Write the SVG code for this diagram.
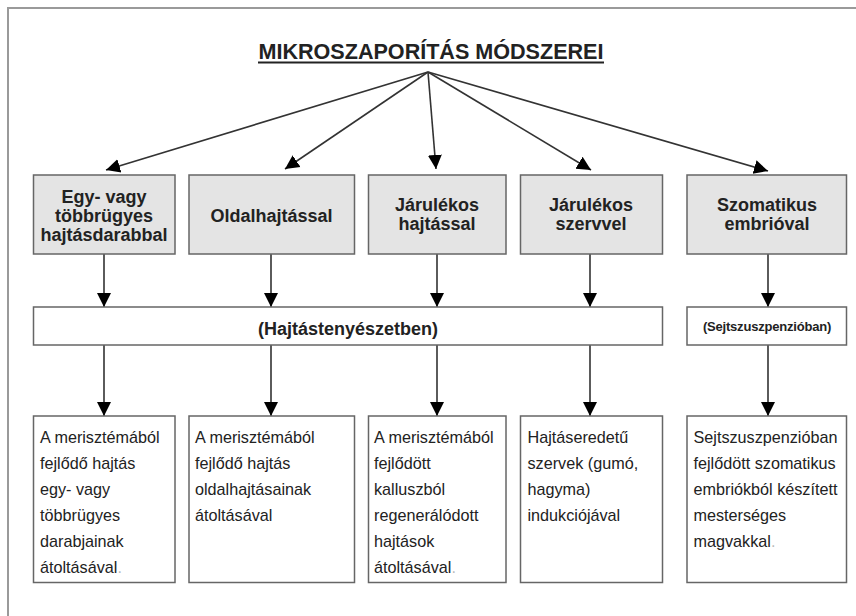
<svg xmlns="http://www.w3.org/2000/svg" width="856" height="616" viewBox="0 0 856 616">
  <style>
    .frame { fill: none; stroke: #9a9a9a; stroke-width: 2; }
    .head { fill: #e4e4e4; stroke: #666; stroke-width: 1.5; }
    .plain { fill: #fff; stroke: #666; stroke-width: 1.5; }
    .hb { font-family: "Liberation Sans", Arial, sans-serif; font-weight: bold; font-size: 18px; fill: #222; text-anchor: middle; }
    .sm { font-size: 13px; letter-spacing: -0.2px; }
    .tx { font-family: "Liberation Sans", Arial, sans-serif; font-size: 16.2px; fill: #222; }
    .dot { fill: #bbb; }
    .conn { stroke: #333; stroke-width: 1.6; fill: none; marker-end: url(#ah); }
  </style>
  <defs>
    <marker id="ah" markerUnits="userSpaceOnUse" markerWidth="16" markerHeight="16" viewBox="0 0 16 16" refX="14" refY="8" orient="auto">
      <path d="M0,1 L14,8 L0,15 Z" fill="#000"/>
    </marker>
  </defs>
  <rect width="856" height="616" fill="#fff"/>
  <path class="frame" d="M8,616 L8,8 L856,8"/>

  <g id="title">
    <text x="431" y="59" font-family="'Liberation Sans', Arial, sans-serif" font-weight="bold" font-size="22" fill="#222" text-anchor="middle" textLength="345" lengthAdjust="spacingAndGlyphs">MIKROSZAPORÍTÁS MÓDSZEREI</text>
    <line x1="258" y1="62.5" x2="604" y2="62.5" stroke="#222" stroke-width="2.2"/>
  </g>

  <g id="connectors">
    <line class="conn" x1="428" y1="72" x2="106" y2="170"/>
    <line class="conn" x1="428" y1="72" x2="285" y2="169"/>
    <line class="conn" x1="428" y1="72" x2="436" y2="169"/>
    <line class="conn" x1="428" y1="72" x2="591" y2="170"/>
    <line class="conn" x1="428" y1="72" x2="768" y2="171"/>

    <line class="conn" x1="104" y1="254" x2="104" y2="307"/>
    <line class="conn" x1="271" y1="254" x2="271" y2="307"/>
    <line class="conn" x1="437" y1="254" x2="437" y2="307"/>
    <line class="conn" x1="590" y1="254" x2="590" y2="307"/>
    <line class="conn" x1="768" y1="254" x2="768" y2="307"/>

    <line class="conn" x1="104" y1="345" x2="104" y2="416"/>
    <line class="conn" x1="271" y1="345" x2="271" y2="416"/>
    <line class="conn" x1="437" y1="345" x2="437" y2="416"/>
    <line class="conn" x1="590" y1="345" x2="590" y2="416"/>
    <line class="conn" x1="768" y1="345" x2="768" y2="416"/>
  </g>

  <g id="m1">
    <rect class="head" x="33.5" y="175" width="141.5" height="79"/>
    <text class="hb" x="104" y="203">Egy- vagy</text>
    <text class="hb" x="104" y="222">többrügyes</text>
    <text class="hb" x="104" y="241">hajtásdarabbal</text>
  </g>
  <g id="m2">
    <rect class="head" x="189" y="175" width="165.5" height="79"/>
    <text class="hb" x="271.5" y="222">Oldalhajtással</text>
  </g>
  <g id="m3">
    <rect class="head" x="368.5" y="175" width="137.5" height="79"/>
    <text class="hb" x="437" y="211">Járulékos</text>
    <text class="hb" x="437" y="230">hajtással</text>
  </g>
  <g id="m4">
    <rect class="head" x="520.5" y="175" width="142" height="79"/>
    <text class="hb" x="591" y="211">Járulékos</text>
    <text class="hb" x="591" y="230">szervvel</text>
  </g>
  <g id="m5">
    <rect class="head" x="687" y="175" width="159.5" height="79"/>
    <text class="hb" x="767" y="211">Szomatikus</text>
    <text class="hb" x="767" y="230">embrióval</text>
  </g>

  <g id="bar1">
    <rect class="plain" x="33.5" y="307" width="629" height="38"/>
    <text class="hb" x="348" y="335">(Hajtástenyészetben)</text>
  </g>
  <g id="bar2">
    <rect class="plain" x="687" y="307" width="159.5" height="38"/>
    <text class="hb sm" x="767" y="330.5">(Sejtszuszpenzióban)</text>
  </g>

  <g id="d1">
    <rect class="plain" x="33.5" y="416" width="141.5" height="166.5"/>
    <text class="tx" x="40" y="442.5">A merisztémából</text>
    <text class="tx" x="40" y="468.5">fejlődő hajtás</text>
    <text class="tx" x="40" y="494.5">egy- vagy</text>
    <text class="tx" x="40" y="520.5">többrügyes</text>
    <text class="tx" x="40" y="546.5">darabjainak</text>
    <text class="tx" x="40" y="572.5">átoltásával<tspan class="dot">.</tspan></text>
  </g>
  <g id="d2">
    <rect class="plain" x="189" y="416" width="165.5" height="166.5"/>
    <text class="tx" x="195" y="442.5">A merisztémából</text>
    <text class="tx" x="195" y="468.5">fejlődő hajtás</text>
    <text class="tx" x="195" y="494.5">oldalhajtásainak</text>
    <text class="tx" x="195" y="520.5">átoltásával</text>
  </g>
  <g id="d3">
    <rect class="plain" x="368.5" y="416" width="137.5" height="166.5"/>
    <text class="tx" x="374" y="442.5">A merisztémából</text>
    <text class="tx" x="374" y="468.5">fejlődött</text>
    <text class="tx" x="374" y="494.5">kalluszból</text>
    <text class="tx" x="374" y="520.5">regenerálódott</text>
    <text class="tx" x="374" y="546.5">hajtások</text>
    <text class="tx" x="374" y="572.5">átoltásával<tspan class="dot">.</tspan></text>
  </g>
  <g id="d4">
    <rect class="plain" x="520.5" y="416" width="142" height="166.5"/>
    <text class="tx" x="527.5" y="442.5">Hajtáseredetű</text>
    <text class="tx" x="527.5" y="468.5">szervek (gumó,</text>
    <text class="tx" x="527.5" y="494.5">hagyma)</text>
    <text class="tx" x="527.5" y="520.5">indukciójával</text>
  </g>
  <g id="d5">
    <rect class="plain" x="687" y="416" width="159.5" height="166.5"/>
    <text class="tx" x="693.5" y="442.5">Sejtszuszpenzióban</text>
    <text class="tx" x="693.5" y="468.5">fejlődött szomatikus</text>
    <text class="tx" x="693.5" y="494.5">embriókból készített</text>
    <text class="tx" x="693.5" y="520.5">mesterséges</text>
    <text class="tx" x="693.5" y="546.5">magvakkal<tspan class="dot">.</tspan></text>
  </g>
</svg>
